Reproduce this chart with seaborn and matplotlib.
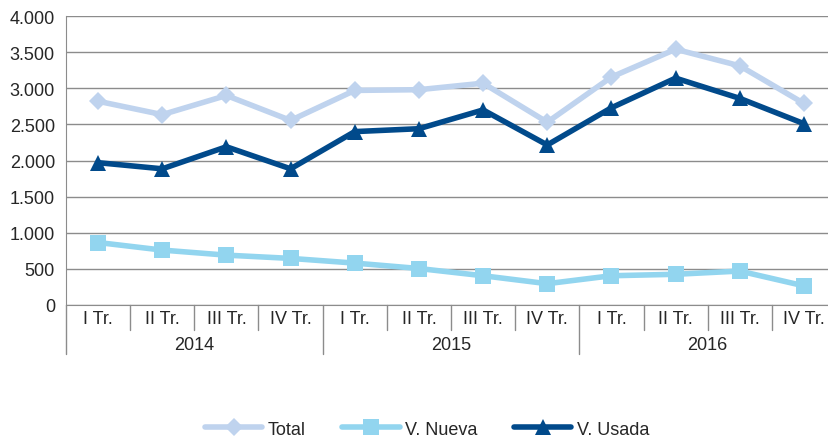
import matplotlib
matplotlib.use("Agg")
import matplotlib.pyplot as plt
import matplotlib.transforms as mtransforms
import pandas as pd
import seaborn as sns

years = ["2014", "2015", "2016"]
quarters = ["I Tr.", "II Tr.", "III Tr.", "IV Tr."]
total = [2820, 2635, 2900, 2555, 2970, 2980, 3070, 2530, 3155, 3540, 3310, 2790]
nueva = [865, 760, 690, 645, 580, 505, 405, 295, 405, 425, 470, 265]
usada = [1970, 1885, 2190, 1885, 2400, 2440, 2700, 2215, 2730, 3140, 2860, 2510]

series = {"Total": total, "V. Nueva": nueva, "V. Usada": usada}
colors = {"Total": "#bfd3ee", "V. Nueva": "#92d5ef", "V. Usada": "#014a8b"}
markers = {"Total": "D", "V. Nueva": "s", "V. Usada": "^"}
sizes = {"Total": 9.5, "V. Nueva": 11.5, "V. Usada": 11}

n = len(years) * len(quarters)
df = pd.DataFrame(
    [(i, name, v) for name, vals in series.items() for i, v in enumerate(vals)],
    columns=["pos", "serie", "valor"],
)

sns.set_style("white")
plt.rcParams["font.family"] = ["Liberation Sans", "DejaVu Sans"]

fig = plt.figure(figsize=(8.29, 4.39), dpi=100)
ax = fig.add_axes([66 / 829, 1 - 306 / 439, 770 / 829, 289 / 439])

for name in series:
    sns.lineplot(data=df[df.serie == name], x="pos", y="valor", ax=ax,
                 color=colors[name], marker=markers[name],
                 markersize=sizes[name], markeredgewidth=0,
                 linewidth=4, label=name, zorder=3)

ax.set_xlim(-0.5, n - 0.5)
ax.set_ylim(0, 4000)
ax.set_yticks(range(0, 4001, 500))
ax.set_yticklabels([f"{v:,}".replace(",", ".") for v in range(0, 4001, 500)],
                   fontsize=13)
ax.yaxis.grid(True, color="#8c8c8c", linewidth=1)
ax.tick_params(axis="y", length=0, pad=8)
ax.set_xticks([])
ax.set_xlabel("")
ax.set_ylabel("")
for s in ["top", "right"]:
    ax.spines[s].set_visible(False)
ax.spines["left"].set_color("#8c8c8c")
ax.spines["bottom"].set_color("#8c8c8c")

# eje de categorías: trimestres, años y separadores
trans = mtransforms.blended_transform_factory(ax.transData, ax.transAxes)
for i in range(n + 1):
    low = -0.17 if i % 4 == 0 else -0.085
    ax.plot([i - 0.5, i - 0.5], [0, low], transform=trans, color="#8c8c8c",
            linewidth=1, clip_on=False)
for i in range(n):
    ax.text(i, -0.047, quarters[i % 4], transform=trans, ha="center",
            va="center", fontsize=13)
for j, y in enumerate(years):
    ax.text(j * 4 + 1.5, -0.135, y, transform=trans, ha="center",
            va="center", fontsize=13)

ax.legend_.remove()
handles, labels = ax.get_legend_handles_labels()
fig.legend(handles, labels, loc="center", bbox_to_anchor=(0.515, 0.02),
           ncol=3, frameon=False, fontsize=13, handlelength=3.2,
           columnspacing=2.0, handletextpad=0.3)

fig.savefig("out.png", dpi=100)
